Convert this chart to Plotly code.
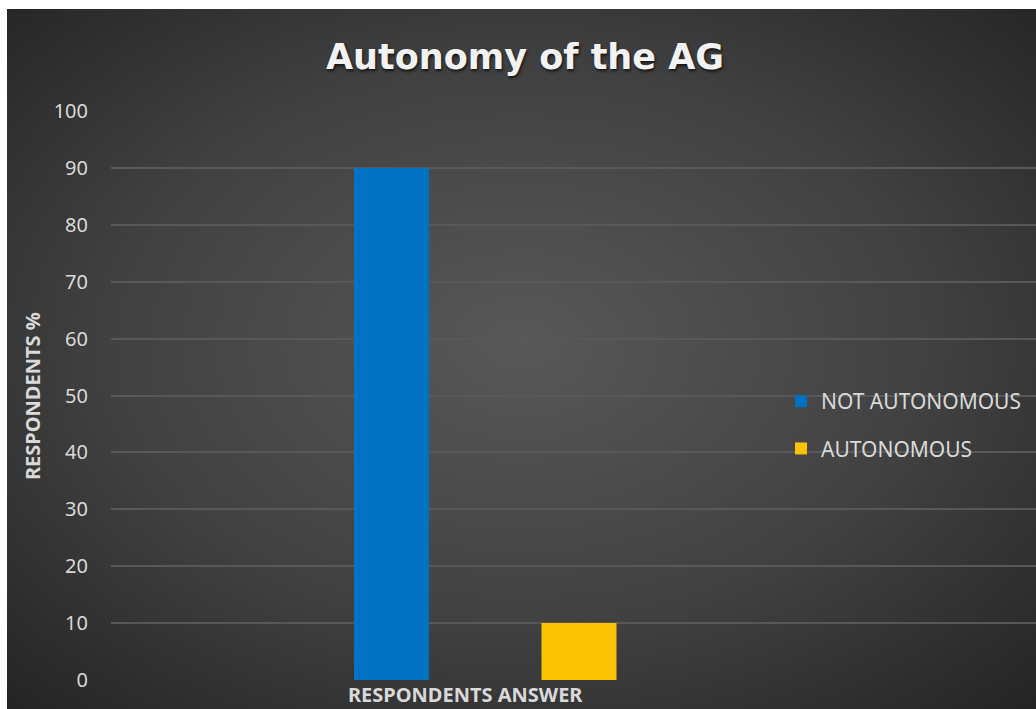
import base64
import plotly.graph_objects as go

# ---- data ----
categories = ["RESPONDENTS ANSWER"]
series_names = ["NOT AUTONOMOUS", "AUTONOMOUS"]
not_autonomous = [90]
autonomous = [10]
y_ticks = [0, 10, 20, 30, 40, 50, 60, 70, 80, 90, 100]

W, H = 1036, 709
L, R, T, B = 111, 0, 111, 29
pw, ph = W - L - R, H - T - B

def px_to_paper_x(px):
    return (px - L) / pw

def px_to_paper_y(py):
    return (H - B - py) / ph

# radial gradient background (svg data uri)
svg = (
    '<svg xmlns="http://www.w3.org/2000/svg" width="1029" height="700" preserveAspectRatio="none">'
    '<defs><radialGradient id="g" cx="0.5" cy="0.48" r="0.72" gradientUnits="objectBoundingBox">'
    '<stop offset="0" stop-color="#585858"/>'
    '<stop offset="0.55" stop-color="#414141"/>'
    '<stop offset="1" stop-color="#242424"/>'
    '</radialGradient></defs>'
    '<rect x="0" y="0" width="1029" height="700" fill="url(#g)"/></svg>'
)
bg_src = "data:image/svg+xml;base64," + base64.b64encode(svg.encode()).decode()

fig = go.Figure()
fig.add_trace(go.Bar(
    x=categories, y=not_autonomous, name=series_names[0],
    marker=dict(color="#0070C0", line=dict(width=0)),
    legendgroup="a",
))
fig.add_trace(go.Bar(
    x=categories, y=autonomous, name=series_names[1],
    marker=dict(color="#FBC202", line=dict(width=0)),
    legendgroup="b",
))

text_col = "#d9d9d9"

fig.update_layout(
    width=W, height=H,
    margin=dict(l=L, r=R, t=T, b=B, pad=0),
    paper_bgcolor="white",
    plot_bgcolor="rgba(0,0,0,0)",
    barmode="group",
    bargap=0.25,
    bargroupgap=0.6,
    font=dict(family="Noto Sans", color=text_col),
    title=dict(
        text="Autonomy of the AG",
        x=525 / W, xanchor="center",
        y=1 - 57 / H, yanchor="middle",
        font=dict(family="DejaVu Sans", size=35, weight="bold", color="#f2f2f2",
                  shadow="1px 2px 3px rgba(0,0,0,0.7)"),
    ),
    xaxis=dict(
        range=[-0.7485, 1.1015],
        showticklabels=False, showgrid=False, zeroline=False,
        showline=False, ticks="", fixedrange=True,
    ),
    yaxis=dict(
        range=[0, 100],
        tickvals=y_ticks,
        tickfont=dict(size=20, color=text_col, family="Noto Sans"),
        ticklabelstandoff=22,
        showgrid=True, gridcolor="#585858", gridwidth=1.5,
        zeroline=False, showline=False, ticks="", fixedrange=True,
    ),
    legend=dict(
        x=px_to_paper_x(781), xanchor="left",
        y=px_to_paper_y(425), yanchor="middle",
        traceorder="grouped",
        tracegroupgap=17,
        font=dict(size=21, color=text_col, family="Noto Sans"),
        bgcolor="rgba(0,0,0,0)",
        itemwidth=30,
    ),
    showlegend=True,
    images=[dict(
        source=bg_src, xref="paper", yref="paper",
        x=px_to_paper_x(7), y=px_to_paper_y(9),
        sizex=(W - 7) / pw, sizey=(H - 9) / ph,
        xanchor="left", yanchor="top",
        sizing="stretch", layer="below",
    )],
    annotations=[
        dict(
            text="<b>RESPONDENTS ANSWER</b>", xref="paper", yref="paper",
            x=px_to_paper_x(465), y=px_to_paper_y(694),
            xanchor="center", yanchor="middle", showarrow=False,
            font=dict(size=20, color=text_col, family="Noto Sans"),
        ),
        dict(
            text="<b>RESPONDENTS %</b>", xref="paper", yref="paper",
            x=px_to_paper_x(32), y=px_to_paper_y(396),
            xanchor="center", yanchor="middle", showarrow=False, textangle=-90,
            font=dict(size=20, color=text_col, family="Noto Sans"),
        ),
    ],
)

fig.write_html(
    "out.html",
    config={"displayModeBar": False},
    post_script="document.body.style.margin='0';document.body.style.padding='0';",
)
